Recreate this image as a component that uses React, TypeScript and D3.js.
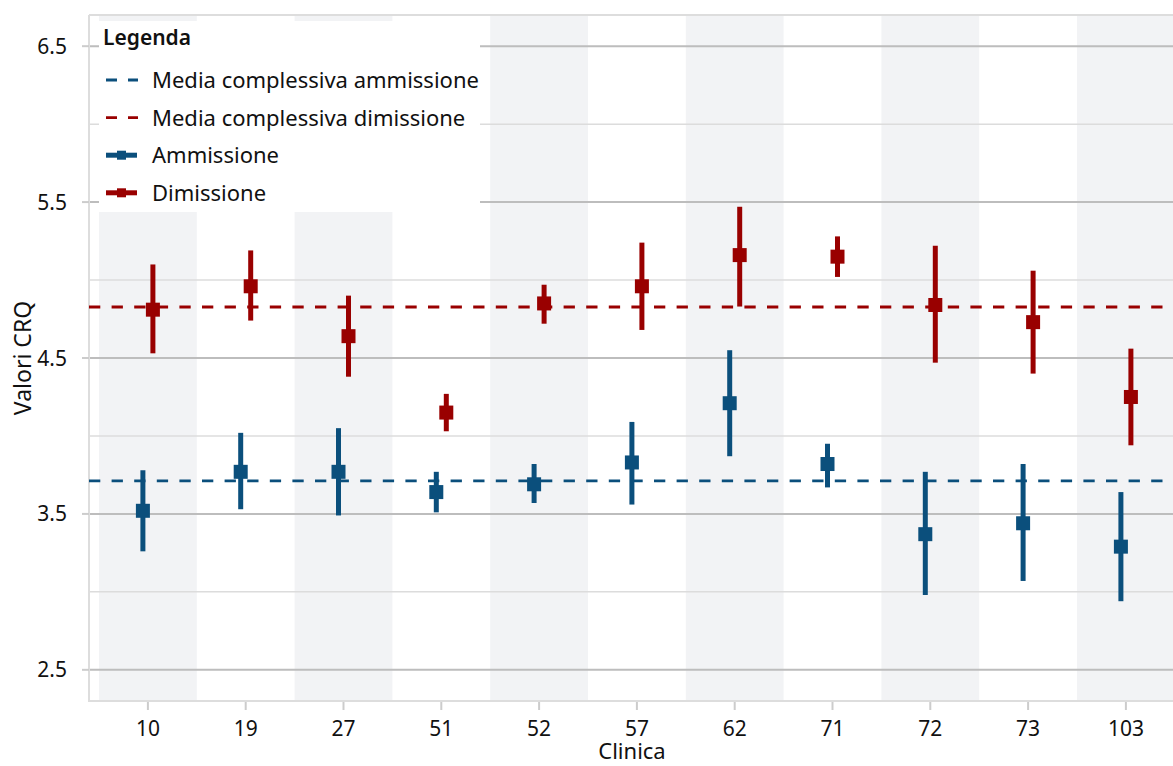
import React from "react";
import * as d3 from "d3";

const categories = ["10", "19", "27", "51", "52", "57", "62", "71", "72", "73", "103"];
const admMean = [3.52, 3.77, 3.77, 3.64, 3.69, 3.83, 4.21, 3.82, 3.37, 3.44, 3.29];
const admLow = [3.26, 3.53, 3.49, 3.51, 3.57, 3.56, 3.87, 3.67, 2.98, 3.07, 2.94];
const admHigh = [3.78, 4.02, 4.05, 3.77, 3.82, 4.09, 4.55, 3.95, 3.77, 3.82, 3.64];
const disMean = [4.81, 4.96, 4.64, 4.15, 4.85, 4.96, 5.16, 5.15, 4.84, 4.73, 4.25];
const disLow = [4.53, 4.74, 4.38, 4.03, 4.72, 4.68, 4.83, 5.02, 4.47, 4.40, 3.94];
const disHigh = [5.10, 5.19, 4.90, 4.27, 4.97, 5.24, 5.47, 5.28, 5.22, 5.06, 4.56];
const overallAdm = 3.712;
const overallDis = 4.827;
const majorTicks = [2.5, 3.5, 4.5, 5.5, 6.5];
const minorTicks = [3.0, 4.0, 5.0, 6.0];
const legendLabels = ["Media complessiva ammissione", "Media complessiva dimissione", "Ammissione", "Dimissione"];

const BLUE = "#0b4f7c";
const RED = "#990000";
const FONT = "'Noto Sans', sans-serif";

export default function App() {
  const W = 1173, H = 766;
  const left = 89, top = 15, bottom = 701;
  const bandStart = 99, bandW = 97.8;
  const x = d3.scaleBand<string>().domain(categories).range([bandStart, bandStart + bandW * categories.length]).padding(0);
  const right = bandStart + bandW * categories.length + 10;
  const y = d3.scaleLinear().domain([2.3, 6.7]).range([bottom, top]);
  const cx = (c: string) => (x(c) as number) + x.bandwidth() / 2;
  const off = 5;
  const sq = 14;

  const series = [
    { mean: admMean, low: admLow, high: admHigh, color: BLUE, dx: -off },
    { mean: disMean, low: disLow, high: disHigh, color: RED, dx: off },
  ];

  return (
    <svg width={W} height={H} style={{ position: "absolute", left: 0, top: 0, background: "#fff" }} fontFamily={FONT}>
      {categories.map((c, i) =>
        i % 2 === 0 ? (
          <rect key={"b" + c} x={x(c)} y={top} width={x.bandwidth()} height={bottom - top} fill="#f2f3f5" />
        ) : null
      )}
      {minorTicks.map((t) => (
        <line key={"mn" + t} x1={left} x2={right} y1={y(t)} y2={y(t)} stroke="#dcdcdc" strokeWidth={1.5} />
      ))}
      {majorTicks.map((t) => (
        <line key={"mj" + t} x1={left} x2={right} y1={y(t)} y2={y(t)} stroke="#bdbdbd" strokeWidth={2} />
      ))}
      <line x1={left} x2={right} y1={top} y2={top} stroke="#dddddd" strokeWidth={2} />
      <line x1={left} x2={left} y1={top} y2={bottom + 1} stroke="#dddddd" strokeWidth={2} />
      <line x1={left} x2={right} y1={bottom} y2={bottom} stroke="#dddddd" strokeWidth={2} />
      {majorTicks.map((t) => (
        <g key={"yt" + t}>
          <line x1={82} x2={left} y1={y(t)} y2={y(t)} stroke="#cccccc" strokeWidth={2} />
          <text x={67} y={y(t)} dy="0.36em" textAnchor="end" fontSize={21} fill="#111">
            {t.toFixed(1)}
          </text>
        </g>
      ))}
      {categories.map((c) => (
        <g key={"xt" + c}>
          <line x1={cx(c)} x2={cx(c)} y1={bottom + 1} y2={bottom + 9} stroke="#cccccc" strokeWidth={2} />
          <text x={cx(c)} y={736} textAnchor="middle" fontSize={21} fill="#111">
            {c}
          </text>
        </g>
      ))}
      <text x={632} y={759} textAnchor="middle" fontSize={22} fill="#111">Clinica</text>
      <text transform={`translate(31,${y(4.5)}) rotate(-90)`} textAnchor="middle" fontSize={23} fill="#111">Valori CRQ</text>
      <line x1={left} x2={right} y1={y(overallDis)} y2={y(overallDis)} stroke={RED} strokeWidth={2.8} strokeDasharray="11.3,11.3" />
      <line x1={left} x2={right} y1={y(overallAdm)} y2={y(overallAdm)} stroke={BLUE} strokeWidth={2.8} strokeDasharray="11.3,11.3" />
      {series.map((s, si) =>
        categories.map((c, i) => (
          <g key={"p" + si + c}>
            <line x1={cx(c) + s.dx} x2={cx(c) + s.dx} y1={y(s.low[i])} y2={y(s.high[i])} stroke={s.color} strokeWidth={5} />
            <rect x={cx(c) + s.dx - sq / 2} y={y(s.mean[i]) - sq / 2} width={sq} height={sq} fill={s.color} />
          </g>
        ))
      )}
      <rect x={99} y={21} width={381} height={191} fill="#fff" />
      <text x={103} y={45} fontSize={21} fontWeight={600} fill="#111">Legenda</text>
      {legendLabels.map((lab, i) => {
        const ly = 80 + i * 37.6;
        const col = i % 2 === 0 ? BLUE : RED;
        return (
          <g key={"lg" + i}>
            {i < 2 ? (
              <line x1={106} x2={138} y1={ly} y2={ly} stroke={col} strokeWidth={2.8} strokeDasharray="11,11" />
            ) : (
              <g>
                <line x1={106} x2={137} y1={ly} y2={ly} stroke={col} strokeWidth={5} />
                <rect x={117} y={ly - 4.5} width={9} height={9} fill={col} />
              </g>
            )}
            <text x={152} y={ly} dy="0.36em" fontSize={22} fill="#111">{lab}</text>
          </g>
        );
      })}
    </svg>
  );
}
